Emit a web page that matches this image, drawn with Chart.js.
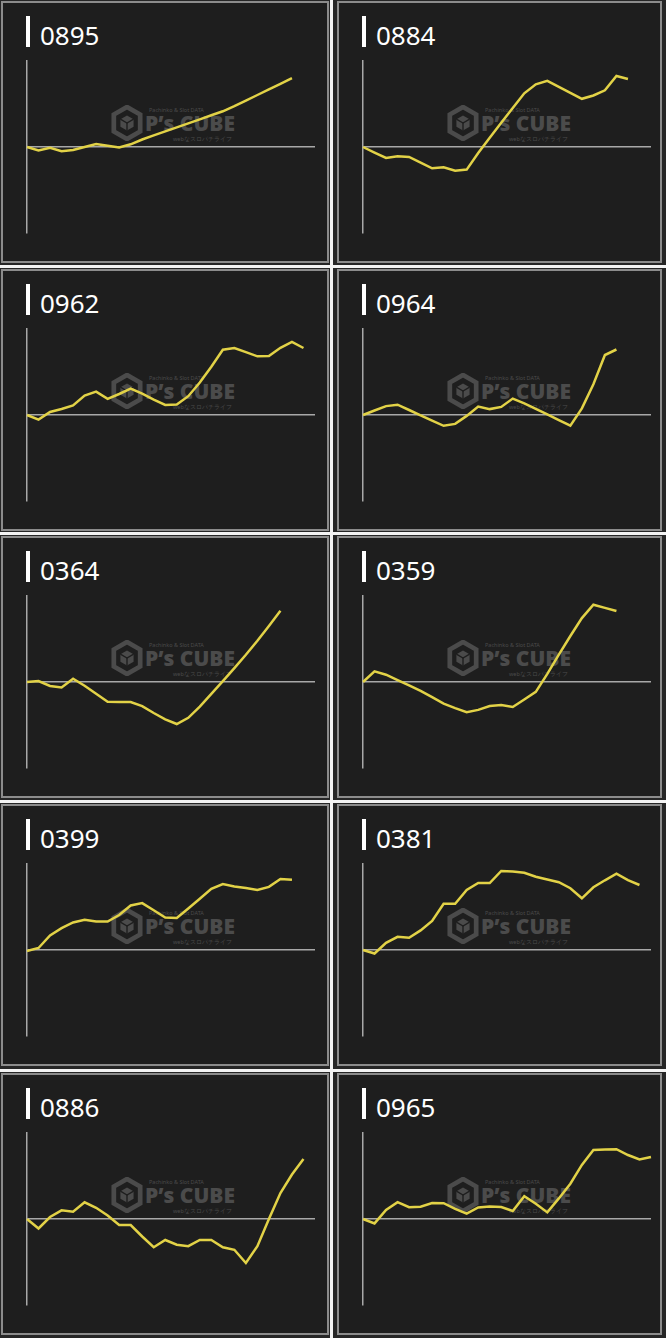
<!DOCTYPE html>
<html>
<head>
<meta charset="utf-8">
<script src="https://cdn.jsdelivr.net/npm/chart.js@4.4.0/dist/chart.umd.min.js"></script>
<style>
  body { margin: 0; width: 666px; height: 1338px; background: #262626; position: relative; overflow: hidden; font-family: "Noto Sans", sans-serif; }
  .vsep { position: absolute; left: 330px; top: 0; width: 3px; height: 1338px; background: #f4f4f4; }
  .hsep { position: absolute; left: 0; width: 666px; height: 3px; background: #f4f4f4; }
  .panel { position: absolute; height: 262px; background: #1e1e1e; border: 2px solid #8c8c8c; box-sizing: border-box; }
  .panel canvas { position: absolute; left: 0; top: 0; }
  .bar { position: absolute; left: 23px; top: 13px; width: 4px; height: 31px; background: #fff; }
  .title { position: absolute; left: 37px; top: 19px; font-size: 26px; line-height: 26px; color: #fff; }
  .mark { position: absolute; left: 108px; top: 102px; width: 130px; height: 40px; color: #4b4b4b; white-space: nowrap; }
  .mark svg { position: absolute; left: 0; top: 0; }
  .mark .big { position: absolute; left: 34px; top: 7px; font-family: "Open Sans", sans-serif; font-weight: 800; font-size: 21px; line-height: 22px; }
  .mark .small1 { position: absolute; left: 38px; top: 2px; font-size: 5.5px; line-height: 6px; }
  .mark .small2 { position: absolute; left: 62px; top: 31px; font-size: 5.5px; line-height: 6px; }
</style>
</head>
<body>
<div class="vsep"></div>
<script>
// x steps (shared) and y range in coins
const steps = [0, 1, 2, 3, 4, 5, 6, 7, 8, 9, 10, 11, 12, 13, 14, 15, 16, 17, 18, 19, 20, 21, 22, 23, 24, 25];
const yMax = 8600;

const titles = ["0895", "0884", "0962", "0964", "0364", "0359", "0399", "0381", "0886", "0965"];

const s0895 = [0, -350, -70, -420, -290, 0, 300, 130, -40, 270, 750, 1160, 1560, 1960, 2360, 2760, 3170, 3570, 4080, 4640, 5200, 5760, 6320, 6890];
const s0884 = [0, -560, -1100, -930, -990, -1560, -2130, -2030, -2380, -2260, -600, 930, 2420, 3900, 5370, 6270, 6620, 6020, 5420, 4820, 5150, 5670, 7100, 6800];
const s0962 = [0, -460, 300, 600, 950, 1950, 2340, 1620, 2100, 2640, 2130, 1530, 1000, 1050, 1880, 3240, 4830, 6530, 6700, 6290, 5870, 5900, 6720, 7300, 6700];
const s0964 = [0, 450, 890, 1030, 500, -30, -560, -1080, -890, -90, 850, 590, 810, 1640, 1160, 620, 60, -510, -1070, 660, 3070, 6000, 6550];
const s0364 = [0, 100, -400, -550, 330, -380, -1170, -1970, -2000, -2000, -2420, -3100, -3730, -4200, -3580, -2470, -1190, 90, 1380, 2720, 4130, 5610, 7130];
const s0359 = [0, 1060, 730, 190, -340, -880, -1520, -2170, -2620, -3020, -2790, -2410, -2290, -2500, -1750, -980, 820, 2730, 4600, 6390, 7730, 7410, 7100];
const s0399 = [-100, 200, 1460, 2180, 2750, 3030, 2840, 2840, 3500, 4450, 4690, 3970, 3240, 3200, 4150, 5120, 6120, 6600, 6360, 6190, 6010, 6310, 7100, 7030];
const s0381 = [0, -350, 720, 1320, 1220, 1960, 2900, 4630, 4630, 6000, 6700, 6700, 7900, 7850, 7730, 7320, 7050, 6780, 6180, 5170, 6270, 6970, 7630, 6980, 6500];
const s0886 = [0, -950, 200, 870, 720, 1670, 1120, 350, -600, -600, -1750, -2820, -2100, -2570, -2720, -2100, -2100, -2830, -3080, -4400, -2720, 0, 2600, 4450, 6000];
const s0965 = [0, -440, 910, 1690, 1180, 1230, 1590, 1580, 1020, 540, 1150, 1260, 1200, 800, 2280, 1520, 660, 2060, 3530, 5410, 6910, 6960, 6980, 6400, 5950, 6200];

const series = [s0895, s0884, s0962, s0964, s0364, s0359, s0399, s0381, s0886, s0965];

const rowTops = [1, 269, 536, 804, 1073];
const colLefts = [1, 337];
const colWidths = [328, 325];
const sepTops = [265, 532, 800, 1069];

sepTops.forEach(t => {
  const d = document.createElement("div");
  d.className = "hsep";
  d.style.top = t + "px";
  document.body.appendChild(d);
});

const markSvg =
  '<svg width="32" height="36" viewBox="0 0 34 38">' +
  '<polygon points="17,2 31,10 31,28 17,36 3,28 3,10" fill="none" stroke="#4b4b4b" stroke-width="5"/>' +
  '<polygon points="17,11 24,15 24,23 17,27 10,23 10,15" fill="#4b4b4b"/>' +
  '<polyline points="10,15 17,19 24,15" fill="none" stroke="#1e1e1e" stroke-width="1.5"/>' +
  '<line x1="17" y1="19" x2="17" y2="27" stroke="#1e1e1e" stroke-width="1.5"/>' +
  '</svg>';

titles.forEach((title, i) => {
  const row = Math.floor(i / 2), col = i % 2;
  const panel = document.createElement("div");
  panel.className = "panel";
  panel.style.left = colLefts[col] + "px";
  panel.style.top = rowTops[row] + "px";
  panel.style.width = colWidths[col] + "px";
  panel.innerHTML =
    '<div class="mark">' + markSvg +
    '<div class="small1">Pachinko &amp; Slot DATA</div>' +
    '<div class="big">P’s CUBE</div>' +
    '<div class="small2">webなスロパチライフ</div></div>' +
    '<div class="bar"></div><div class="title">' + title + '</div>';
  const cv = document.createElement("canvas");
  const w = colWidths[col] - 4, h = 258;
  cv.width = w; cv.height = h;
  cv.style.width = w + "px"; cv.style.height = h + "px";
  panel.appendChild(cv);
  document.body.appendChild(panel);

  new Chart(cv, {
    type: "line",
    data: {
      labels: steps,
      datasets: [{
        data: series[i],
        borderColor: "#e2d247",
        borderWidth: 2.5,
        pointRadius: 0,
        tension: 0,
        fill: false
      }]
    },
    options: {
      responsive: false,
      animation: false,
      events: [],
      layout: { padding: { left: 24, top: 58, right: w - 312, bottom: 28 } },
      plugins: { legend: { display: false }, tooltip: { enabled: false } },
      scales: {
        x: { display: false },
        y: {
          min: -yMax, max: yMax,
          ticks: { display: false, stepSize: yMax },
          grid: {
            drawTicks: false,
            lineWidth: 1.5,
            color: c => (c.tick && c.tick.value === 0 ? "#a8a8a8" : "rgba(0,0,0,0)")
          },
          border: { display: true, color: "#a8a8a8", width: 1.5 },
          afterFit: s => { s.width = 0; }
        }
      }
    }
  });
});
</script>
</body>
</html>
